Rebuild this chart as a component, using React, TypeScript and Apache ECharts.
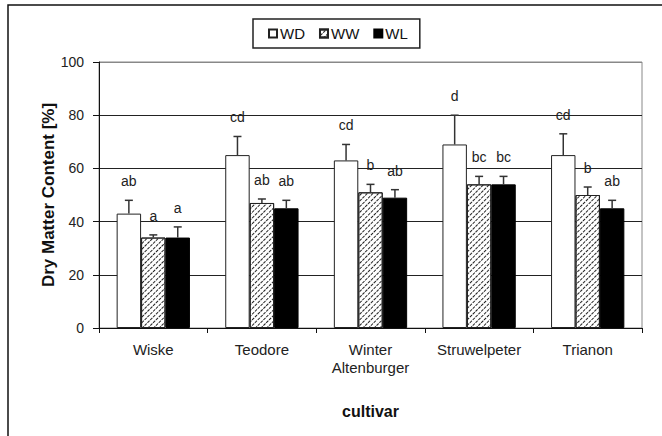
import React, { useEffect, useRef } from "react";
import * as echarts from "echarts";

const categories = ["Wiske", "Teodore", "Winter\nAltenburger", "Struwelpeter", "Trianon"];
const seriesNames = ["WD", "WW", "WL"];
const wdValues = [43, 65, 63, 69, 65];
const wwValues = [34, 47, 51, 54, 50];
const wlValues = [34, 45, 49, 54, 45];
const wdErr = [5, 7, 6, 11, 8];
const wwErr = [1, 1.5, 3, 3, 3];
const wlErr = [4, 3, 3, 3, 3];
const wdLetters = ["ab", "cd", "cd", "d", "cd"];
const wwLetters = ["a", "ab", "b", "bc", "b"];
const wlLetters = ["a", "ab", "ab", "bc", "ab"];
const yTicks = [0, 20, 40, 60, 80, 100];

const FONT = "'Liberation Sans', Arial, sans-serif";
const BAR_FRAC = 0.225;

export default function App() {
  const ref = useRef<HTMLDivElement>(null);
  useEffect(() => {
    document.body.style.margin = "0";
    if (!ref.current) return;
    const chart = echarts.init(ref.current, null, { renderer: "svg" });
    const values = [wdValues, wwValues, wlValues];
    const errs = [wdErr, wwErr, wlErr];
    const letters = [wdLetters, wwLetters, wlLetters];
    const styles: any[] = [
      { color: "#fff", borderColor: "#222", borderWidth: 1 },
      {
        color: "#fff",
        borderColor: "#222",
        borderWidth: 1,
        decal: {
          symbol: "rect",
          symbolSize: 1,
          dashArrayX: [3, 1],
          dashArrayY: [1, 2.5],
          rotation: -Math.PI / 4,
          color: "#222",
        },
      },
      { color: "#000", borderColor: "#000", borderWidth: 1 },
    ];
    const barSeries = seriesNames.map((name, i) => ({
      type: "bar",
      name,
      data: values[i],
      barWidth: BAR_FRAC * 100 + "%",
      barGap: "0%",
      itemStyle: styles[i],
      z: 2,
    }));
    const errSeries = seriesNames.map((name, i) => ({
      type: "custom",
      name: name + "_err",
      z: 5,
      data: values[i].map((v, k) => [k, v, v + errs[i][k]]),
      renderItem: (params: any, api: any) => {
        const k = api.value(0);
        const v = api.value(1);
        const top = api.value(2);
        const idx = params.dataIndex;
        const lab = letters[i][idx];
        const base = api.coord([k, v]);
        const tp = api.coord([k, top]);
        const cw = api.size([1, 0])[0];
        const x = base[0] + (i - 1) * BAR_FRAC * cw;
        return {
          type: "group",
          children: [
            {
              type: "line",
              shape: { x1: x, y1: base[1], x2: x, y2: tp[1] },
              style: { stroke: "#333", lineWidth: 1.5 },
            },
            {
              type: "line",
              shape: { x1: x - 4, y1: tp[1], x2: x + 4, y2: tp[1] },
              style: { stroke: "#333", lineWidth: 1.5 },
            },
            {
              type: "text",
              x: x,
              y: tp[1] - 19,
              style: {
                text: lab,
                fill: "#222",
                font: "14px " + FONT,
                align: "center",
                verticalAlign: "middle",
              },
            },
          ],
        };
      },
    }));
    chart.setOption({
      animation: false,
      textStyle: { fontFamily: FONT },
      graphic: [
        {
          type: "rect",
          shape: { x: 8, y: 5, width: 700, height: 500 },
          style: { fill: "none", stroke: "#111", lineWidth: 1.5 },
          silent: true,
          z: -10,
        },
      ],
      legend: {
        data: seriesNames,
        left: 253,
        top: 19,
        icon: "rect",
        itemWidth: 8,
        itemHeight: 8,
        itemGap: 14,
        padding: [7, 12, 7, 15],
        borderColor: "#222",
        borderWidth: 1.5,
        textStyle: { fontSize: 15, color: "#111", fontFamily: FONT, padding: [0, 0, 0, -2] },
      },
      grid: {
        left: 99,
        right: 20,
        top: 62,
        bottom: 108,
        show: true,
        borderColor: "#888",
        borderWidth: 1,
      },
      xAxis: {
        type: "category",
        data: categories,
        name: "cultivar",
        nameLocation: "middle",
        nameGap: 75,
        nameMoveOverlap: false,
        nameTextStyle: { fontSize: 16, fontWeight: "bold", color: "#111", fontFamily: FONT },
        axisLine: { lineStyle: { color: "#111", width: 1 } },
        axisTick: { show: true, length: 5, lineStyle: { color: "#111" } },
        axisLabel: {
          interval: 0,
          fontSize: 15,
          color: "#222",
          margin: 12,
          lineHeight: 18,
          fontFamily: FONT,
        },
      },
      yAxis: {
        type: "value",
        min: yTicks[0],
        max: yTicks[yTicks.length - 1],
        interval: 20,
        name: "Dry Matter Content [%]",
        nameLocation: "middle",
        nameGap: 42,
        nameMoveOverlap: false,
        nameTextStyle: { fontSize: 17, fontWeight: "bold", color: "#111", fontFamily: FONT },
        axisLine: { show: true, lineStyle: { color: "#111", width: 1 } },
        axisTick: { show: true, inside: false, length: 6, lineStyle: { color: "#111" } },
        axisLabel: { fontSize: 14, color: "#222", margin: 15, fontFamily: FONT },
        splitLine: {
          show: true,
          lineStyle: { color: ["#222", "#222", "#222", "#222", "#222", "#888"], width: 1 },
        },
      },
      series: [...barSeries, ...errSeries],
    });
    return () => chart.dispose();
  }, []);
  return <div ref={ref} style={{ width: 662, height: 436 }} />;
}
